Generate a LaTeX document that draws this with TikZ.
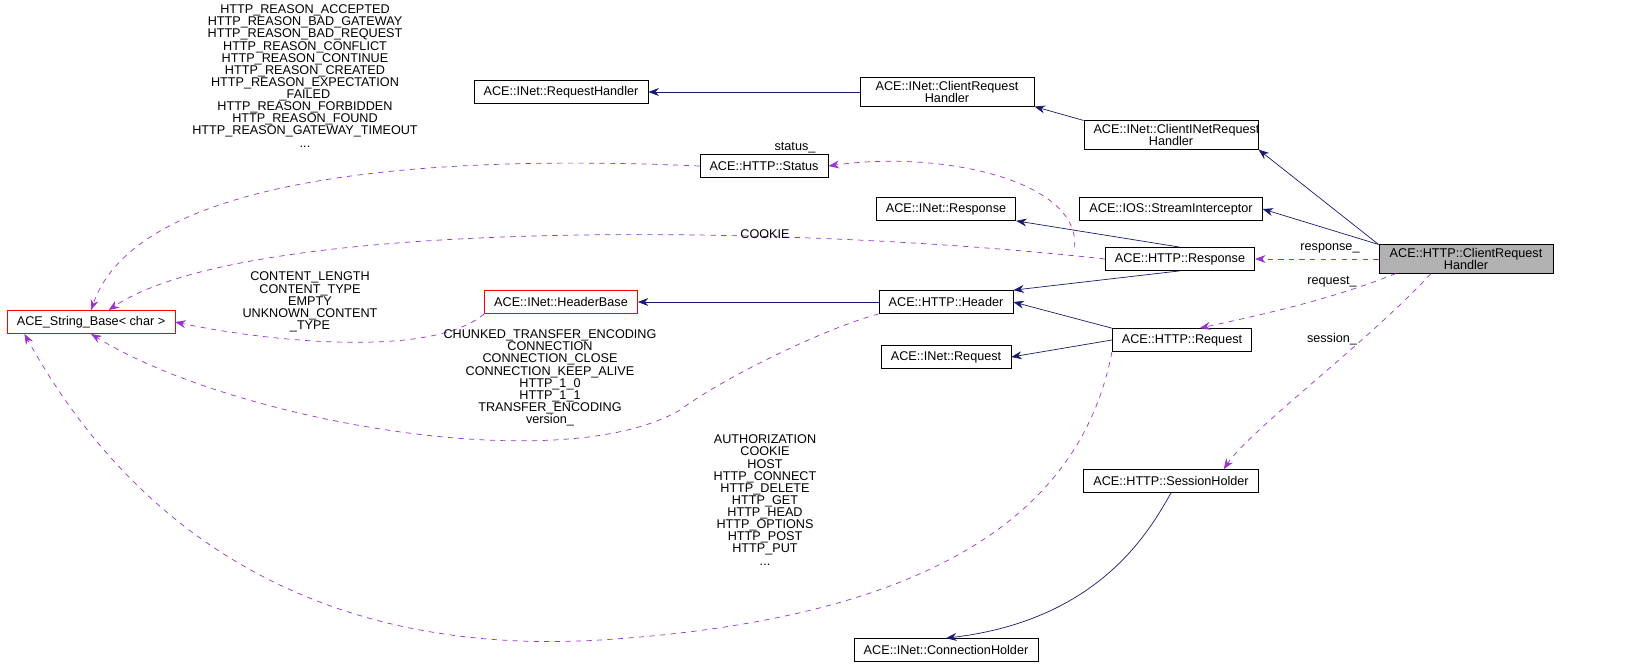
\documentclass[tikz,border=0pt]{standalone}
\usepackage{fontspec}
\setmainfont{Liberation Sans}
\usetikzlibrary{arrows.meta}
\definecolor{edgenavy}{RGB}{25,25,112}
\definecolor{edgeorchid}{RGB}{154,50,205}

\begin{document}
\begin{tikzpicture}[x=0.02cm, y=-0.02cm, font=\fontsize{7.2}{6.9}\selectfont,
  cls/.style={draw, thin, fill=white, inner xsep=5.5pt, inner ysep=2pt, align=center, minimum height=0.46cm},
  redcls/.style={cls, draw=red},
  inherit/.style={draw=edgenavy, {Stealth[length=6pt]}-},
  usage/.style={draw=edgeorchid, dashed, -{Stealth[length=6pt]}},
  lbl/.style={align=center, inner sep=0pt}]
\useasboundingbox (0,0) rectangle (1625,664);

\node[cls, text width=3.1cm] (crh) at (1466,259) [fill=black!30] {ACE::HTTP::ClientRequest\\Handler};
\node[cls, text width=3.1cm] (inetcrh) at (1171,135) {ACE::INet::ClientINetRequest\\Handler};
\node[cls, text width=3.1cm] (clientrh) at (947,92) {ACE::INet::ClientRequest\\Handler};
\node[cls] (reqhandler) at (561,92) {ACE::INet::RequestHandler};
\node[cls] (status) at (764,166) {ACE::HTTP::Status};
\node[cls] (interceptor) at (1171,209) {ACE::IOS::StreamInterceptor};
\node[cls] (inetresp) at (946,209) {ACE::INet::Response};
\node[cls] (httpresp) at (1180,259) {ACE::HTTP::Response};
\node[redcls] (strbase) at (91,322) {ACE\_String\_Base\textless{} char \textgreater};
\node[redcls] (headerbase) at (561,302) {ACE::INet::HeaderBase};
\node[cls] (header) at (946,302) {ACE::HTTP::Header};
\node[cls] (httpreq) at (1182,340) {ACE::HTTP::Request};
\node[cls] (inetreq) at (946,357) {ACE::INet::Request};
\node[cls] (session) at (1171,481) {ACE::HTTP::SessionHolder};
\node[cls] (connection) at (946,650) {ACE::INet::ConnectionHolder};

% inheritance
\draw[inherit] (reqhandler) -- (clientrh);
\draw[inherit] (clientrh.south east) -- (inetcrh.north west);
\draw[inherit] (inetcrh.south east) -- (crh.north west);
\draw[inherit] (interceptor.east) -- (crh.north west);
\draw[inherit] (inetresp.south east) -- (httpresp.north);
\draw[inherit] (header.north east) -- (httpresp.south);
\draw[inherit] (headerbase) -- (header);
\draw[inherit] (header.east) -- (httpreq.north west);
\draw[inherit] (inetreq.east) -- (httpreq.west);
\draw[inherit] (connection.north) .. controls (1100,620) and (1150,530) .. (session.south);

% usage
\draw[usage] (status.west) .. controls (450,155) and (140,170) .. (strbase.north);
\draw[usage] (httpresp.west) .. controls (800,225) and (250,215) .. ([xshift=10]strbase.north);
\draw[usage] (headerbase.south west) .. controls (430,360) and (260,340) .. (strbase.east);
\draw[usage] (header.south west) .. controls (820,330) and (720,380) .. (680,410)
  .. controls (560,480) and (230,420) .. (strbase.south);
\draw[usage] (httpreq.south west) .. controls (1080,520) and (920,620) .. (600,640)
  .. controls (350,655) and (150,560) .. ([xshift=10]strbase.south west);
\draw[usage] ([xshift=-60]httpresp.north) .. controls (1080,180) and (940,150) .. (status.east);
\draw[usage] (crh.west) -- (httpresp.east);
\draw[usage] ([xshift=-40]crh.south) .. controls (1330,300) and (1260,315) .. ([xshift=50]httpreq.north west);
\draw[usage] ([xshift=-20]crh.south) .. controls (1370,340) and (1250,430) .. ([xshift=30]session.north);

% labels
\node[lbl] at (305,76) {HTTP\_REASON\_ACCEPTED\\HTTP\_REASON\_BAD\_GATEWAY\\HTTP\_REASON\_BAD\_REQUEST\\HTTP\_REASON\_CONFLICT\\HTTP\_REASON\_CONTINUE\\HTTP\_REASON\_CREATED\\HTTP\_REASON\_EXPECTATION\\\_FAILED\\HTTP\_REASON\_FORBIDDEN\\HTTP\_REASON\_FOUND\\HTTP\_REASON\_GATEWAY\_TIMEOUT\\...};
\node[lbl] at (795,148) {status\_};
\node[lbl] at (765,234) {COOKIE};
\node[lbl] at (310,302) {CONTENT\_LENGTH\\CONTENT\_TYPE\\EMPTY\\UNKNOWN\_CONTENT\\\_TYPE};
\node[lbl] at (550,378) {CHUNKED\_TRANSFER\_ENCODING\\CONNECTION\\CONNECTION\_CLOSE\\CONNECTION\_KEEP\_ALIVE\\HTTP\_1\_0\\HTTP\_1\_1\\TRANSFER\_ENCODING\\version\_};
\node[lbl] at (765,500) {AUTHORIZATION\\COOKIE\\HOST\\HTTP\_CONNECT\\HTTP\_DELETE\\HTTP\_GET\\HTTP\_HEAD\\HTTP\_OPTIONS\\HTTP\_POST\\HTTP\_PUT\\...};
\node[lbl] at (1330,248) {response\_};
\node[lbl] at (1332,282) {request\_};
\node[lbl] at (1332,339) {session\_};
\end{tikzpicture}
\end{document}
